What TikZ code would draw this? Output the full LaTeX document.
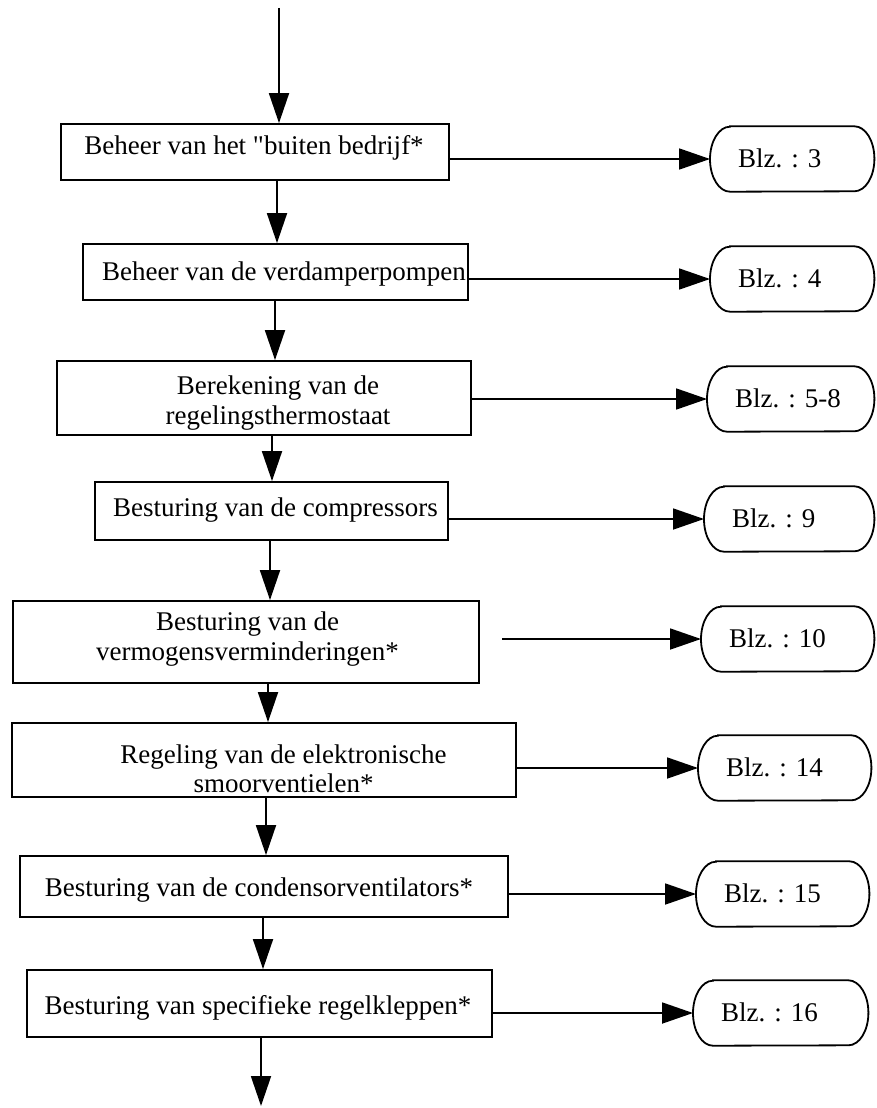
\documentclass[tikz,border=0pt]{standalone}
\usepackage{fontspec}
\setmainfont{Liberation Serif}[Ligatures=TeXOff]
\usetikzlibrary{arrows.meta}
\newcommand{\blzframe}[1]{%
  \draw[frameline] ([xshift=20pt]#1.north west) -- ([xshift=-20pt]#1.north east)
    arc[start angle=90,end angle=-90,x radius=20pt,y radius=32.5pt]
    -- ([xshift=20pt]#1.south west)
    arc[start angle=270,end angle=90,x radius=20pt,y radius=32.5pt] -- cycle;}
\begin{document}
\frenchspacing
\begin{tikzpicture}[x=1pt,y=-1pt,
  box/.style={draw, line width=1.8pt, inner sep=0pt},
  frameline/.style={line width=1.8pt},
  lbl/.style={font=\fontsize{27}{29.5}\selectfont, inner sep=0pt, text height=18.9pt, text depth=5.9pt},
  lbltwo/.style={font=\fontsize{27}{29.5}\selectfont, inner sep=0pt, align=center},
  blz/.style={font=\fontsize{27}{29.5}\selectfont, anchor=west, inner xsep=28pt, inner ysep=0pt,
    align=left, minimum height=65pt, text height=17.9pt, text depth=0pt},
  varr/.style={line width=1.8pt, -{Triangle[length=30pt,width=20pt]}},
  harr/.style={line width=1.8pt, -{Triangle[length=31pt,width=21pt]}}
]
\useasboundingbox (0,0) rectangle (876,1108);

% main boxes
\node[box, minimum width=388pt, minimum height=56pt] (b1) at (255,152) {};
\node[box, minimum width=385pt, minimum height=56pt] (b2) at (275.5,272) {};
\node[box, minimum width=414pt, minimum height=74pt] (b3) at (264,398) {};
\node[box, minimum width=353pt, minimum height=58pt] (b4) at (271.5,511) {};
\node[box, minimum width=466pt, minimum height=82pt] (b5) at (246,642) {};
\node[box, minimum width=504pt, minimum height=74pt] (b6) at (264,760) {};
\node[box, minimum width=488pt, minimum height=61pt] (b7) at (264,886.5) {};
\node[box, minimum width=465pt, minimum height=67pt] (b8) at (259.5,1003.5) {};

% texts
\node[lbl] (t1) at (254,147.5) {Beheer van het "buiten bedrijf*};
\node[lbl] (t2) at (284,273.5) {Beheer van de verdamperpompen};
\node[lbltwo] (t3) at (278,403) {Berekening van de\\regelingsthermostaat};
\node[lbl] (t4) at (275.5,509.5) {Besturing van de compressors};
\node[lbltwo] (t5) at (247.5,639) {Besturing van de\\vermogensverminderingen*};
\node[lbltwo] (t6) at (283.5,769) {Regeling van de elektronische\\smoorventielen*};
\node[lbl] (t7) at (259,889.5) {Besturing van de condensorventilators*};
\node[lbl] (t8) at (258,1007.5) {Besturing van specifieke regelkleppen*};

% page boxes
\node[blz, text width=108pt] (z1) at (710,159) {\mbox{Blz. : 3}};
\node[blz, text width=108pt] (z2) at (710,279) {\mbox{Blz. : 4}};
\node[blz, text width=111pt] (z3) at (707,399) {\mbox{Blz. : 5-8}};
\node[blz, text width=114pt] (z4) at (704,519) {\mbox{Blz. : 9}};
\node[blz, text width=117pt] (z5) at (701,639) {\mbox{Blz. : 10}};
\node[blz, text width=117pt] (z6) at (698,768) {\mbox{Blz. : 14}};
\node[blz, text width=117pt] (z7) at (696,894) {\mbox{Blz. : 15}};
\node[blz, text width=119pt] (z8) at (693,1013) {\mbox{Blz. : 16}};
\foreach \n in {z1,z2,z3,z4,z5,z6,z7,z8} {\blzframe{\n}}

% spine coordinates
\coordinate (s0) at (279,8);
\coordinate (k1) at (277,0);
\coordinate (k2) at (275,0);
\coordinate (k3) at (272,0);
\coordinate (k4) at (270,0);
\coordinate (k5) at (268,0);
\coordinate (k6) at (266,0);
\coordinate (k7) at (263,0);
\coordinate (e) at (261,1106);

\draw[varr] (s0) -- (s0 |- b1.north);
\draw[varr] (b1.south -| k1) -- (b2.north -| k1);
\draw[varr] (b2.south -| k2) -- (b3.north -| k2);
\draw[varr] (b3.south -| k3) -- (b4.north -| k3);
\draw[varr] (b4.south -| k4) -- (b5.north -| k4);
\draw[varr] (b5.south -| k5) -- (b6.north -| k5);
\draw[varr] (b6.south -| k6) -- (b7.north -| k6);
\draw[varr] (b7.south -| k7) -- (b8.north -| k7);
\draw[varr] (b8.south -| e) -- (e);

% horizontal connectors
\coordinate (c5) at (502,639);
\draw[harr] (b1.east |- z1.west) -- (z1.west);
\draw[harr] (b2.east |- z2.west) -- (z2.west);
\draw[harr] (b3.east |- z3.west) -- (z3.west);
\draw[harr] (b4.east |- z4.west) -- (z4.west);
\draw[harr] (c5) -- (z5.west);
\draw[harr] (b6.east |- z6.west) -- (z6.west);
\draw[harr] (b7.east |- z7.west) -- (z7.west);
\draw[harr] (b8.east |- z8.west) -- (z8.west);
\end{tikzpicture}
\end{document}
